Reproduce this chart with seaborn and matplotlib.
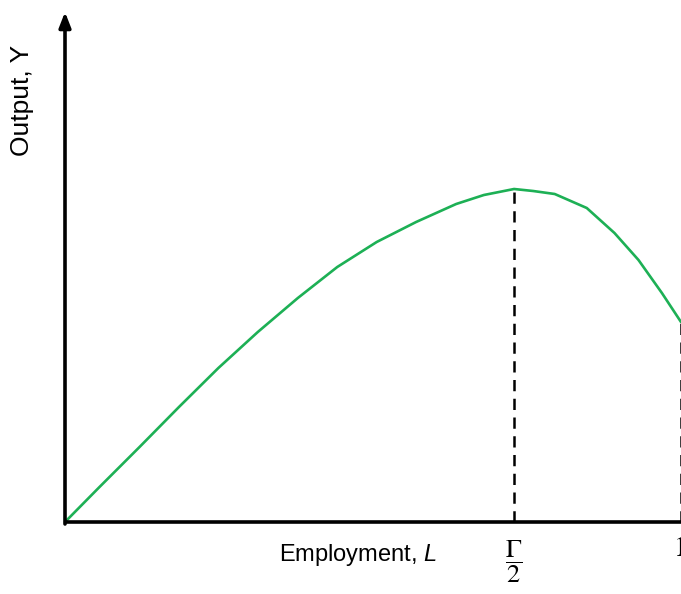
import matplotlib
matplotlib.use("Agg")
import matplotlib.pyplot as plt
import seaborn as sns
import pandas as pd

# Data (employment L, output Y in arbitrary units)
employment = [0.0, 0.056, 0.121, 0.185, 0.249, 0.313, 0.378, 0.442, 0.506,
              0.570, 0.635, 0.680, 0.729, 0.760, 0.795, 0.847, 0.892, 0.931,
              0.969, 1.0]
output = [0.0, 0.35, 0.75, 1.15, 1.54, 1.90, 2.24, 2.55, 2.80,
          3.00, 3.18, 3.27, 3.33, 3.31, 3.28, 3.14, 2.89, 2.62,
          2.29, 2.00]
peak_L = 0.729
peak_Y = 3.33
end_L = 1.0
end_Y = 2.00
tick_labels = [r"$\dfrac{\Gamma}{2}$", "1"]

sns.set_style("white")
plt.rcParams["font.family"] = ["Liberation Sans", "DejaVu Sans"]
plt.rcParams["mathtext.fontset"] = "custom"
plt.rcParams["mathtext.rm"] = "STIXGeneral"
plt.rcParams["mathtext.it"] = "Liberation Sans:italic"
plt.rcParams["mathtext.bf"] = "STIXGeneral:bold"
plt.rcParams["text.color"] = "black"

fig = plt.figure(figsize=(6.81, 5.94), dpi=100)
ax = fig.add_axes([65 / 681, 72 / 594, 1 - 65 / 681, (522 - 12) / 594])

df = pd.DataFrame({"L": employment, "Y": output})
sns.lineplot(data=df, x="L", y="Y", ax=ax, color="#1db055", linewidth=1.9,
             clip_on=False, zorder=3)

ax.plot([peak_L, peak_L], [0, peak_Y], color="black", lw=1.8,
        linestyle=(0, (4.5, 3)), zorder=2)
ax.plot([end_L, end_L], [0, end_Y], color="black", lw=1.8,
        linestyle=(0, (4.5, 3)), zorder=2, clip_on=False)

ax.set_xlim(0, 1)
ax.set_ylim(0, 5.10)
for s in ["top", "right", "left", "bottom"]:
    ax.spines[s].set_visible(False)
ax.set_xticks([])
ax.set_yticks([])
ax.set_xlabel("")
ax.set_ylabel("")

# axes lines
ax.plot([0, 1], [0, 0], color="black", lw=2.6, clip_on=False, zorder=4,
        solid_capstyle="butt")
ax.annotate("", xy=(0, 5.10), xytext=(0, -0.02),
            xycoords="data", textcoords="data",
            arrowprops=dict(arrowstyle="-|>,head_length=0.9,head_width=0.35",
                            color="black", lw=2.6, shrinkA=0, shrinkB=0),
            annotation_clip=False, zorder=5)

# labels
fig.text(358 / 681, 1 - 555 / 594, r"Employment, $\mathit{L}$", ha="center",
         va="center", fontsize=17, color="black")
fig.text(22 / 681, 1 - 100 / 594, "Output, Y", ha="center", va="center",
         fontsize=19, rotation=90, color="black")

ax.text(peak_L, -0.40, tick_labels[0], ha="center", va="center", fontsize=19,
        color="black", clip_on=False)
ax.text(end_L, -0.27, tick_labels[1], ha="center", va="center", fontsize=20,
        family="STIXGeneral", color="black", clip_on=False)

fig.savefig("out.png", dpi=100)
